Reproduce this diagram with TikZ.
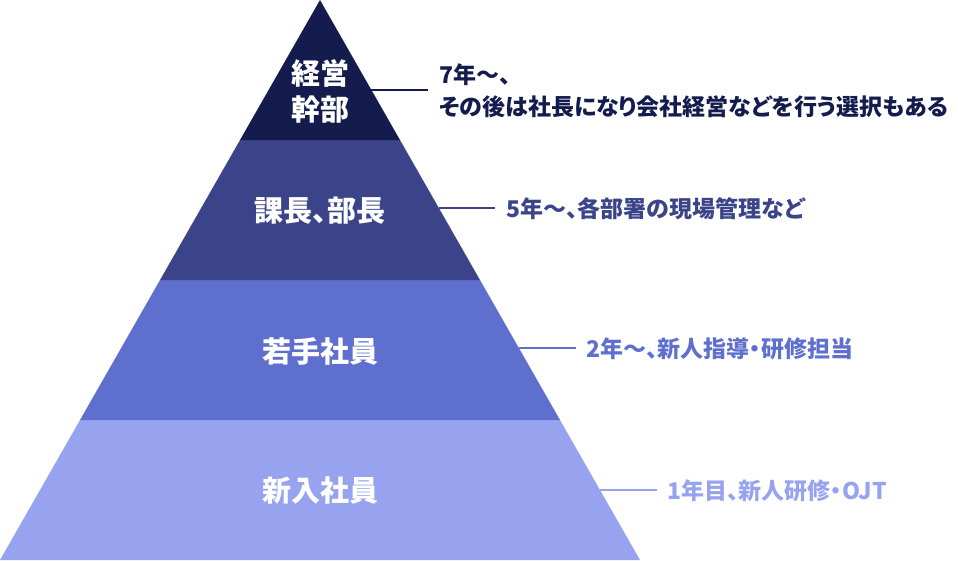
\documentclass[tikz,border=0pt]{standalone}
\usepackage{fontspec}
\setmainfont{Noto Sans CJK JP}[RawFeature=+palt]
\definecolor{cA}{HTML}{141B4D}
\definecolor{cB}{HTML}{3B4489}
\definecolor{cC}{HTML}{5F6FCE}
\definecolor{cD}{HTML}{98A3F0}
\tikzset{
  lvl/.style={text=white,font=\bfseries\fontsize{29}{36}\selectfont,align=center,inner sep=0pt},
  desc/.style={font=\bfseries\fontsize{23}{32}\selectfont,align=left,anchor=west,inner sep=0pt},
  conn/.style={line width=2.2pt}
}
\begin{document}
\begin{tikzpicture}[x=1pt,y=-1pt]
\useasboundingbox (0,0) rectangle (958,560);
\fill[cD] (80,420) -- (560,420) -- (640,560) -- (0,560) -- cycle;
\fill[cC] (160,280) -- (480,280) -- (560,420) -- (80,420) -- cycle;
\fill[cB] (240,140) -- (400,140) -- (480,280) -- (160,280) -- cycle;
\fill[cA] (320,0) -- (400,140) -- (240,140) -- cycle;
\node[lvl] (l1) at (320,91) {経営\\幹部};
\node[lvl] (l2) at (320,211) {課長、部長};
\node[lvl] (l3) at (320,351) {若手社員};
\node[lvl] (l4) at (320,491) {新入社員};
\coordinate (e1) at (371.4,90);
\coordinate (e2) at (438.9,208);
\coordinate (e3) at (518.9,348);
\coordinate (e4) at (600,490);
\node[desc,text=cA] (t1) at (439,91) {7年～、\\その後は社長になり会社経営などを行う選択もある};
\node[desc,text=cB] (t2) at (506,209) {5年～、各部署の現場管理など};
\node[desc,text=cC] (t3) at (586,349) {2年～、新人指導・研修担当};
\node[desc,text=cD] (t4) at (667,491) {1年目、新人研修・OJT};
\draw[conn,cA,shorten >=11pt] (e1) -- (e1 -| t1.west);
\draw[conn,cB,shorten >=11pt] (e2) -- (e2 -| t2.west);
\draw[conn,cC,shorten >=10pt] (e3) -- (e3 -| t3.west);
\draw[conn,cD,shorten >=10pt] (e4) -- (e4 -| t4.west);
\end{tikzpicture}
\end{document}
